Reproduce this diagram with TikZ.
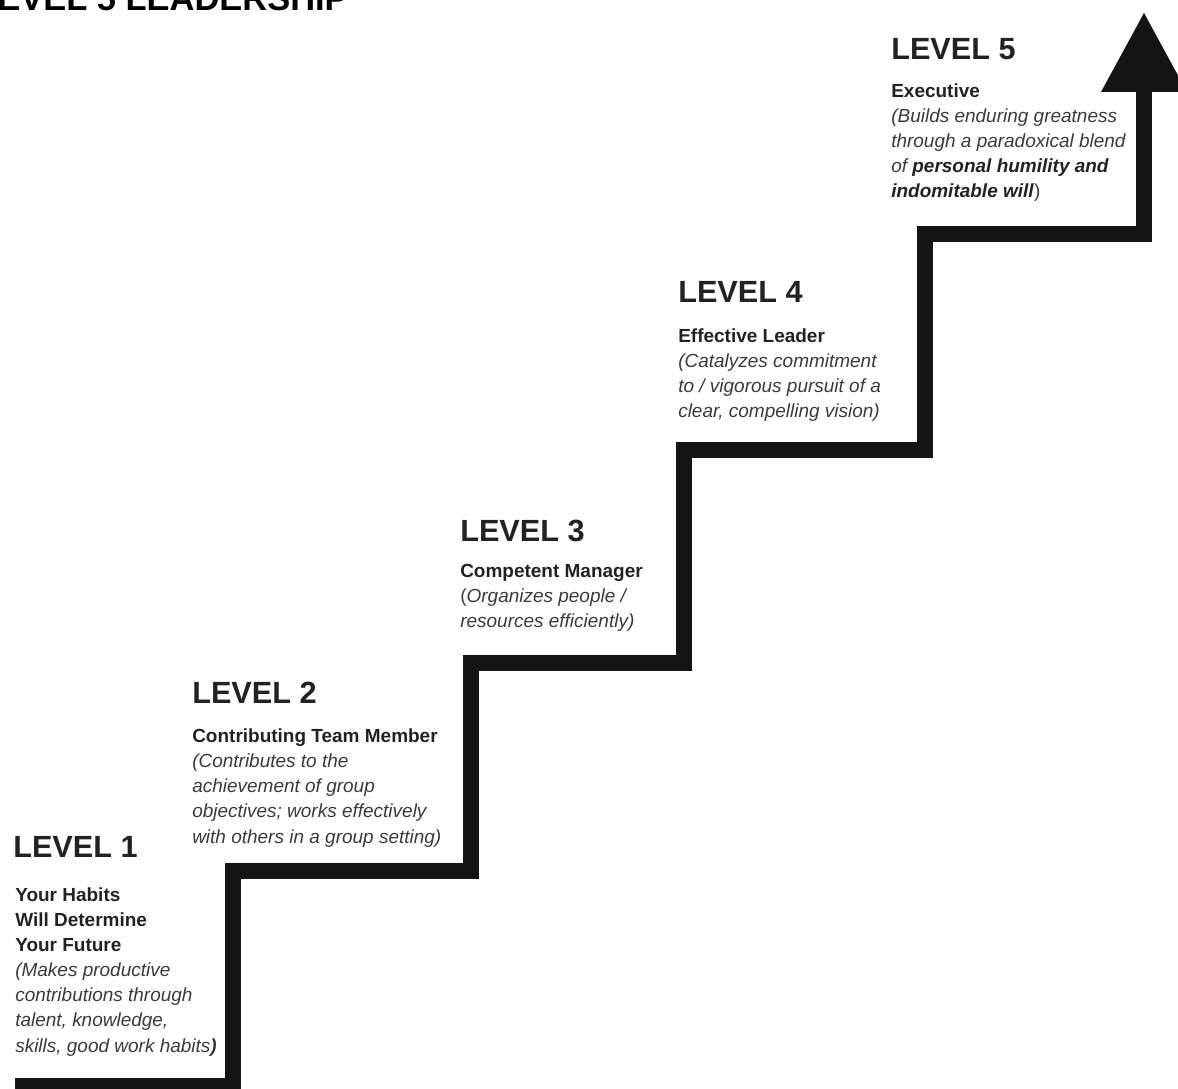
\documentclass[tikz,border=0pt]{standalone}
\usepackage{fontspec}
\setmainfont{Liberation Sans}
\usepackage{tikz}
\usetikzlibrary{positioning, calc}
\definecolor{ink}{HTML}{141414}
\definecolor{txt}{HTML}{222222}
\definecolor{soft}{HTML}{3A3A3A}
\tikzstyle{level} = [anchor=base west, inner sep=0, text=txt, font=\fontsize{21.8}{26}\selectfont\bfseries]
\tikzstyle{blurb} = [anchor=base west, inner sep=0, text=soft, align=left, font=\fontsize{13.5}{17.8}\selectfont]
\tikzstyle{stair} = [line width=0.4cm, draw=ink, line join=miter]

\begin{document}
\begin{tikzpicture}[x=0.025cm, y=0.025cm]
		\useasboundingbox (0,0) rectangle (1178,1088);
		\clip (0,0) rectangle (1178,1088);

		% corners of the staircase
		\coordinate (s0)  at (15,   2);
		\coordinate (s1)  at (233,  2);
		\coordinate (s2)  at (233,  217);
		\coordinate (s3)  at (471,  217);
		\coordinate (s4)  at (471,  425);
		\coordinate (s5)  at (684,  425);
		\coordinate (s6)  at (684,  638);
		\coordinate (s7)  at (925,  638);
		\coordinate (s8)  at (925,  854);
		\coordinate (s9)  at (1144, 854);
		\coordinate (top) at (1144, 996);

		\node[anchor=base east, inner sep=0, font=\fontsize{24.5}{28}\selectfont\bfseries] (title) at (348, 1077) {LEVEL 5 LEADERSHIP};

		\draw[stair] (s0) -- (s1) -- (s2) -- (s3) -- (s4) -- (s5) -- (s6) -- (s7) -- (s8) -- (s9) -- (top);
		\fill[ink] ($(top)+(-43, 0)$) -- ($(top)+(0, 79)$) -- ($(top)+(43, 0)$) -- cycle;

		\node[level] (L1) at (13,  231)  {LEVEL 1};
		\node[level] (L2) at (192, 385)  {LEVEL 2};
		\node[level] (L3) at (460, 546)  {LEVEL 3};
		\node[level] (L4) at (678, 785)  {LEVEL 4};
		\node[level] (L5) at (891, 1028) {LEVEL 5};

		% blurbs sit on the baseline of their last line
		\node[blurb] (B1) at (15,  36)  {\textbf{\color{txt}Your Habits}\\\textbf{\color{txt}Will Determine}\\\textbf{\color{txt}Your Future}\\\textit{(Makes productive}\\\textit{contributions through}\\\textit{talent, knowledge,}\\\textit{skills, good work habits\textbf{)}}};
		\node[blurb] (B2) at (192, 245) {\textbf{\color{txt}Contributing Team Member}\\\textit{(Contributes to the}\\\textit{achievement of group}\\\textit{objectives; works effectively}\\\textit{with others in a group setting)}};
		\node[blurb] (B3) at (460, 460) {\textbf{\color{txt}Competent Manager}\\(\textit{Organizes people /}\\\textit{resources efficiently)}};
		\node[blurb] (B4) at (678, 670) {\textbf{\color{txt}Effective Leader}\\\textit{(Catalyzes commitment}\\\textit{to / vigorous pursuit of a}\\\textit{clear, compelling vision)}};
		\node[blurb] (B5) at (891, 890) {\textbf{\color{txt}Executive}\\\textit{(Builds enduring greatness}\\\textit{through a paradoxical blend}\\\textit{of \textbf{\color{txt}personal humility and}}\\\textbf{\color{txt}\textit{indomitable will}})};

	\end{tikzpicture}
\end{document}
